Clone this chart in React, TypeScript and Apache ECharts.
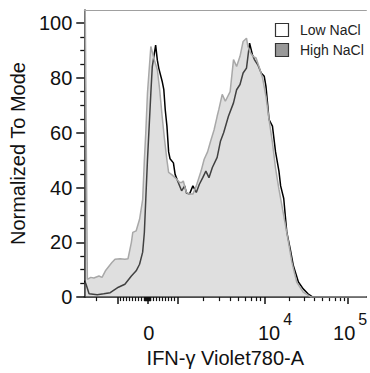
import React, { useEffect, useRef } from "react";
import * as echarts from "echarts";

// Histogram data, x in display channels (0..1000 across the plot), y = % of mode
const highX = [3, 11, 23, 34, 52, 63, 75, 98, 109, 127, 144, 155, 167, 172, 184, 196, 207, 213, 218, 224, 236, 247, 259, 267, 276, 284, 293, 299, 310, 328, 338, 345, 351, 362, 373, 385, 397, 414, 425, 437, 448, 460, 471, 477, 489, 500, 517, 529, 540, 552, 563, 575, 580, 590, 598, 609, 621, 632, 644, 655, 667, 678, 690, 707, 724, 736, 753, 776, 804, 1000];
const highY = [110, 6.5, 7.2, 7, 7.7, 7.2, 9.6, 12.6, 13.8, 14, 13.8, 14, 20, 23.6, 24.2, 28.4, 35.6, 50, 60, 74.5, 91.5, 87, 83, 76, 66, 58, 50, 45.5, 44.7, 43, 41.8, 41.8, 42.4, 38.2, 37.6, 37.6, 40.6, 46, 50.3, 53, 57, 61, 66, 68.5, 74, 71.5, 75, 86.7, 84.2, 87.9, 93.3, 94.5, 91.5, 89, 87.9, 87.3, 83.6, 80, 73.3, 64.8, 56.4, 47, 39.4, 29.7, 20, 12.7, 5.5, 1.8, 0, 0];

const lowX = [1, 6, 17, 46, 69, 92, 121, 144, 167, 184, 196, 207, 213, 218, 224, 236, 241, 253, 259, 264, 276, 282, 287, 293, 299, 304, 316, 322, 333, 345, 356, 362, 373, 385, 397, 408, 420, 431, 442, 454, 471, 483, 494, 511, 529, 540, 552, 563, 575, 586, 596, 603, 615, 627, 638, 644, 655, 667, 678, 690, 696, 707, 718, 730, 741, 759, 776, 793, 810, 1000];
const lowY = [6, 4.8, 1.2, 0.9, 1.2, 1.6, 3.6, 4.7, 7.7, 9.6, 12, 16.4, 23.6, 35.6, 50, 74.5, 84, 92, 86.5, 83.6, 78.8, 75.7, 68.4, 62.4, 53, 50.5, 49, 44.8, 41.8, 38.8, 40.6, 38, 37.6, 40.6, 38.2, 41.2, 43.6, 46, 43.6, 47.3, 51, 57, 60, 66, 70.9, 75.7, 77.6, 81.8, 83.6, 92.7, 88.5, 86.7, 84.8, 81.8, 80.6, 76.9, 64.8, 62.4, 53, 46, 40.6, 36, 23.6, 17.6, 11.5, 5.5, 3, 1.2, 0, 0];

const seriesNames = ["Low NaCl", "High NaCl"];

// Y ticks
const yMajor = [0, 20, 40, 60, 80, 100];
const yMinor = [5, 10, 15, 25, 30, 35, 45, 50, 55, 65, 70, 75, 85, 90, 95];

// X ticks (fluorescence values, biexponential display)
const xMajorValues = [-1000, 0, 1000, 10000, 100000];
const xMinorValues = [
  -10000, -900, -800, -700, -600, -500, -400, -300, -200, -100,
  -90, -80, -70, -60, -50, -40, -30, -20, -10, 10, 20, 30, 40, 50, 60, 70, 80, 90,
  100, 200, 300, 400, 500, 600, 700, 800, 900,
  2000, 3000, 4000, 5000, 6000, 7000, 8000, 9000,
  20000, 30000, 40000, 50000, 60000, 70000, 80000, 90000,
];
const xLabelValues = [0, 10000, 100000];
const xLabelBase = ["0", "10", "10"];
const xLabelExp = ["", "4", "5"];
const xLabelNudge = [5, 38, 8];

// biexponential-like display transform: value -> channel
function toChannel(v: number): number {
  if (v >= -1000 && v <= 1000) return 224 + 0.107 * v;
  if (v > 1000 && v <= 10000) return 331 + 307 * Math.log10(v / 1000);
  if (v > 10000) return 638 + 296.5 * Math.log10(v / 10000);
  return 117 - 76 * Math.log10(-v / 1000);
}

const FONT = "'Liberation Sans', Arial, Helvetica, sans-serif";

export default function App() {
  const ref = useRef<HTMLDivElement>(null);
  useEffect(() => {
    if (!ref.current) return;
    const chart = echarts.init(ref.current, null, { renderer: "svg" });
    const labelAnchors = xLabelValues.map((v, i) => toChannel(v) + xLabelNudge[i]);
    const common = { min: 0, max: 1000, type: "value" as const };
    const option: any = {
      animation: false,
      textStyle: { fontFamily: FONT },
      grid: { left: 80, right: 0, top: 10, bottom: 75 },
      xAxis: [
        {
          ...common,
          position: "bottom",
          axisLine: { onZero: false, lineStyle: { color: "#111", width: 1.5 } },
          axisTick: {
            show: true,
            customValues: xMajorValues.map(toChannel),
            length: 7,
            lineStyle: { color: "#111", width: 1.5 },
          },
          axisLabel: {
            show: true,
            customValues: labelAnchors,
            margin: 14,
            color: "#111",
            fontFamily: FONT,
            formatter: (val: number) => {
              let idx = 0;
              let best = Infinity;
              labelAnchors.forEach((a, i) => {
                const d = Math.abs(a - val);
                if (d < best) {
                  best = d;
                  idx = i;
                }
              });
              return xLabelExp[idx]
                ? `{b|${xLabelBase[idx]}}{s|${xLabelExp[idx]}}`
                : `{z|${xLabelBase[idx]}}`;
            },
            rich: {
              b: { fontSize: 20, color: "#111", fontFamily: FONT, verticalAlign: "bottom" },
              s: { fontSize: 16, color: "#111", fontFamily: FONT, verticalAlign: "top", padding: [0, 0, 16, 3] },
              z: { fontSize: 20, color: "#111", fontFamily: FONT, padding: [12, 0, 0, 0] },
            },
          },
          splitLine: { show: false },
          name: "IFN-γ Violet780-A",
          nameLocation: "middle",
          nameGap: 45,
          nameTextStyle: { fontSize: 20, color: "#111", fontFamily: FONT },
        },
        {
          ...common,
          position: "bottom",
          axisLine: { show: false, onZero: false },
          axisTick: {
            show: true,
            customValues: xMinorValues.map(toChannel),
            length: 4,
            lineStyle: { color: "#111", width: 1.2 },
          },
          axisLabel: { show: false },
          splitLine: { show: false },
        },
        {
          ...common,
          position: "top",
          axisLine: { show: true, onZero: false, lineStyle: { color: "#a0a0a0", width: 1 } },
          axisTick: { show: false },
          axisLabel: { show: false },
          splitLine: { show: false },
        },
      ],
      yAxis: [
        {
          type: "value",
          min: 0,
          max: 104.8,
          position: "left",
          axisLine: { show: true, onZero: false, lineStyle: { color: "#111", width: 1.5 } },
          axisTick: { show: true, customValues: yMajor, length: 8, lineStyle: { color: "#111", width: 1.5 } },
          axisLabel: { show: true, customValues: yMajor, fontSize: 20, margin: 12, color: "#111", fontFamily: FONT },
          splitLine: { show: false },
          name: "Normalized To Mode",
          nameLocation: "middle",
          nameGap: 50,
          nameTextStyle: { fontSize: 20, color: "#111", fontFamily: FONT },
        },
        {
          type: "value",
          min: 0,
          max: 104.8,
          position: "left",
          axisLine: { show: false, onZero: false },
          axisTick: { show: true, customValues: yMinor, length: 4, lineStyle: { color: "#111", width: 1.3 } },
          axisLabel: { show: false },
          splitLine: { show: false },
        },
      ],
      series: [
        {
          name: seriesNames[0],
          type: "line",
          xAxisIndex: 0,
          yAxisIndex: 0,
          data: lowX.map((x, i) => [x, lowY[i]]),
          showSymbol: false,
          symbol: "none",
          lineStyle: { color: "#000", width: 1.5 },
          z: 2,
        },
        {
          name: seriesNames[1],
          type: "line",
          xAxisIndex: 0,
          yAxisIndex: 0,
          data: highX.map((x, i) => [x, highY[i]]),
          showSymbol: false,
          symbol: "none",
          lineStyle: { color: "#a8a8a8", width: 1.5 },
          areaStyle: { color: "#aaaaaa", opacity: 0.38 },
          z: 3,
        },
      ],
      graphic: [
        { type: "rect", shape: { x: 275.5, y: 23.5, width: 13, height: 13 }, style: { fill: "#fff", stroke: "#333", lineWidth: 1.2 } },
        { type: "rect", shape: { x: 275.5, y: 43.5, width: 13, height: 13 }, style: { fill: "#999", stroke: "#333", lineWidth: 1.2 } },
        { type: "text", x: 300, y: 30, style: { text: seriesNames[0], fontSize: 14, fill: "#222", fontFamily: FONT, verticalAlign: "middle" } },
        { type: "text", x: 300, y: 50, style: { text: seriesNames[1], fontSize: 14, fill: "#222", fontFamily: FONT, verticalAlign: "middle" } },
      ],
    };
    chart.setOption(option);
    return () => chart.dispose();
  }, []);
  return (
    <div
      ref={ref}
      style={{ position: "fixed", left: 0, top: 0, width: 370, height: 373, background: "#fff" }}
    />
  );
}
